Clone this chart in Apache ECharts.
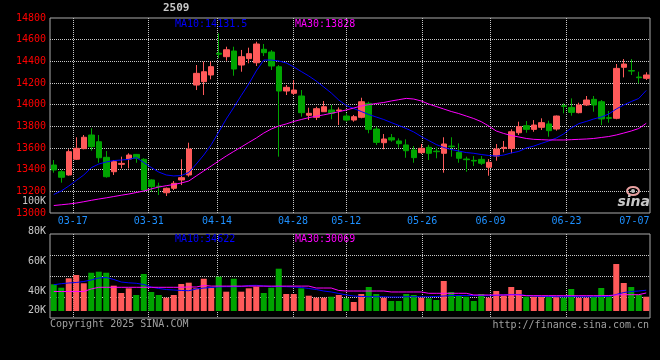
<!DOCTYPE html>
<html><head><meta charset="utf-8">
<script src="https://cdn.jsdelivr.net/npm/echarts@6/dist/echarts.min.js"></script>
<style>html,body{margin:0;padding:0;background:#000}#c{width:660px;height:360px}</style>
</head><body><div id="c"></div><script>
const contract = '2509';
const dates = ['2025-03-12','2025-03-13','2025-03-14','2025-03-17','2025-03-18','2025-03-19','2025-03-20','2025-03-21','2025-03-24','2025-03-25','2025-03-26','2025-03-27','2025-03-28','2025-03-31',
'2025-04-01','2025-04-02','2025-04-03','2025-04-07','2025-04-08','2025-04-09','2025-04-10','2025-04-11','2025-04-14','2025-04-15','2025-04-16','2025-04-17','2025-04-18','2025-04-21','2025-04-22','2025-04-23','2025-04-24','2025-04-25','2025-04-28','2025-04-29','2025-04-30',
'2025-05-06','2025-05-07','2025-05-08','2025-05-09','2025-05-12','2025-05-13','2025-05-14','2025-05-15','2025-05-16','2025-05-19','2025-05-20','2025-05-21','2025-05-22','2025-05-23','2025-05-26','2025-05-27','2025-05-28','2025-05-29','2025-05-30',
'2025-06-03','2025-06-04','2025-06-05','2025-06-06','2025-06-09','2025-06-10','2025-06-11','2025-06-12','2025-06-13','2025-06-16','2025-06-17','2025-06-18','2025-06-19','2025-06-20','2025-06-23','2025-06-24','2025-06-25','2025-06-26','2025-06-27','2025-06-30',
'2025-07-01','2025-07-02','2025-07-03','2025-07-04','2025-07-07','2025-07-08'];
const labelDates = ['03-17','03-31','04-14','04-28','05-12','05-26','06-09','06-23','07-07'];
const gridDates = ['03-17','03-31','04-14','04-28','05-12','05-26','06-09','06-23'];

const open = [13443,13381,13351,13496,13594,13720,13658,13514,13381,13449,
13498,13541,13496,13305,13248,13187,13228,13305,13351,14181,
14212,14274,14475,14443,14495,14366,14425,14387,14511,14486,
14350,14126,14105,14080,13902,13883,13935,13951,13945,13895,
13858,13883,14012,13775,13649,13695,13665,13628,13582,13557,
13606,13571,13551,13618,13560,13498,13486,13495,13422,13526,
13597,13597,13741,13806,13772,13791,13822,13775,13990,13975,
13926,13997,14049,14027,13880,13874,14345,14315,14255,14243];
const close = [13397,13330,13566,13597,13699,13612,13510,13335,13474,13458,
13535,13505,13212,13243,13243,13228,13274,13326,13591,14289,
14304,14351,14466,14507,14329,14443,14471,14560,14480,14357,
14126,14160,14135,13926,13920,13963,13981,13920,13951,13858,
13889,14027,13772,13652,13683,13674,13640,13575,13511,13597,
13551,13566,13637,13612,13505,13492,13480,13459,13468,13591,
13606,13750,13797,13772,13812,13834,13760,13895,13985,13929,
13997,14043,13997,13868,13874,14335,14375,14310,14249,14274];
const low = [13372,13280,13345,13489,13588,13575,13464,13326,13351,13412,
13412,13464,13197,13197,13166,13157,13212,13258,13335,14135,
14089,14234,14428,14406,14267,14304,14382,14357,14449,14320,
13520,14089,14089,13889,13858,13858,13935,13865,13812,13843,
13843,13874,13736,13628,13588,13658,13603,13510,13464,13545,
13489,13505,13372,13520,13464,13381,13434,13443,13344,13483,
13560,13551,13720,13741,13750,13766,13704,13760,13920,13898,
13920,13988,13935,13812,13834,13865,14252,14274,14197,14228];
const high = [13489,13397,13588,13699,13720,13782,13720,13572,13489,13520,
13551,13545,13505,13311,13280,13235,13295,13496,13649,14366,
14397,14397,14659,14535,14535,14505,14526,14581,14560,14504,
14366,14181,14227,14135,13972,13981,14034,13997,13975,13920,
13905,14064,14027,13797,13729,13729,13689,13680,13618,13637,
13628,13606,13699,13699,13643,13520,13526,13526,13498,13637,
13665,13772,13843,13849,13858,13874,13852,13900,14012,14058,
14018,14080,14080,14043,13942,14375,14421,14421,14304,14299];
const ma10 = [13171,13203,13249,13300,13351,13418,13452,13471,13484,13489,
13495,13512,13466,13420,13378,13351,13342,13346,13374,13452,
13535,13631,13748,13868,13974,14085,14191,14311,14412,14412,
14403,14385,14348,14306,14265,14218,14163,14108,14043,13992,
13965,13937,13909,13886,13863,13835,13808,13780,13748,13706,
13669,13632,13605,13586,13572,13558,13551,13540,13531,13526,
13535,13554,13568,13600,13618,13642,13665,13692,13730,13785,
13825,13845,13868,13886,13914,13960,13997,14029,14057,14131.5];
const ma30 = [13069,13076,13083,13092,13104,13117,13129,13140,13152,13164,
13175,13189,13203,13222,13240,13252,13263,13277,13295,13342,
13388,13434,13480,13526,13568,13609,13651,13692,13738,13775,
13803,13822,13845,13863,13880,13893,13906,13920,13935,13951,
13969,13988,14000,14011,14020,14034,14046,14058,14052,14034,
14006,13983,13960,13937,13918,13895,13872,13843,13803,13757,
13734,13715,13702,13688,13680,13677,13674,13674,13674,13677,
13680,13683,13688,13697,13706,13720,13738,13757,13780,13828];
const volume = [44500,38800,54500,60000,46200,63800,65500,63800,42200,30000,
37800,26700,61700,31700,26700,22200,26700,45000,47200,37800,
53800,38800,57200,32200,53800,32200,37800,40500,30000,38800,
70500,28300,28300,37800,25500,22200,22200,23800,26700,21200,
15000,28300,40000,28300,22200,16700,16700,28300,26700,22200,
21200,18300,50000,31700,26700,23800,16700,28300,22200,33300,
25500,40000,35000,23800,23800,23800,23800,23800,22200,36700,
22200,22200,23800,38300,25500,78300,46700,40000,26700,23800];
const volMa10 = [43800,45500,46700,47500,49200,51700,55000,55800,52500,48300,
47000,46200,44200,40000,37500,35800,35000,34200,33800,36700,
38300,39200,40300,40500,40500,40800,42500,42800,41700,40500,
40800,40500,40000,39200,37500,35800,33300,31700,29200,26700,
25000,24200,23800,23800,23800,23300,23300,23800,23800,23800,
23800,24200,25000,25800,25800,25800,25800,25800,25500,26200,
26700,27500,27500,25800,25000,24500,24200,23800,23800,24200,
23800,23800,23800,24200,24200,27500,30800,32500,33300,34622];
const volMa30 = [32500,32500,32500,32500,32500,36700,39500,39500,39500,39500,
39500,39500,39500,39500,39500,39500,39500,39500,40000,40000,
42500,41500,41500,41500,41500,41500,41500,41500,41500,41500,
41500,41500,41500,41500,41500,38300,38300,38300,34200,33300,
33300,33300,33300,33300,33300,31700,31700,31700,31700,31700,
29500,29500,29500,29500,29500,29500,26700,26700,26700,26700,
26700,26700,26700,25500,25500,25500,25500,25500,25500,25500,
25500,25500,25500,25500,25800,26700,27200,27200,27200,30069];

const RED = '#ff5a5a', GREEN = '#00a400', FONT = 'DejaVu Sans Mono';
const GRIDC = '#c8c8c8', FRAME = '#aaaaaa';
const candleData = dates.map((d, i) => [open[i], close[i], low[i], high[i]]);
const volData = volume.map((v, i) => ({ value: v, itemStyle: { color: close[i] > open[i] ? RED : GREEN } }));
const last = a => a[a.length - 1];
const dotted = { type: 'dotted', color: GRIDC, width: 1 };
const lastLabel = labelDates[labelDates.length - 1];

const chart = echarts.init(document.getElementById('c'));
chart.setOption({
  animation: false,
  backgroundColor: '#000',
  grid: [
    { left: 50, top: 18, width: 600, height: 195, show: true, borderColor: FRAME, borderWidth: 1 },
    { left: 50, top: 234, width: 600, height: 84, show: true, borderColor: FRAME, borderWidth: 1 },
    { left: 50, top: 234, width: 600, height: 77 },
    { left: 50, top: 201, width: 600, height: 120 }
  ],
  xAxis: [
    { gridIndex: 0, type: 'category', data: dates, boundaryGap: true, show: false, position: 'bottom' },
    { gridIndex: 0, type: 'category', data: dates, boundaryGap: false, position: 'bottom',
      axisLine: { show: false }, axisTick: { show: false },
      axisLabel: {
        interval: (i, v) => labelDates.includes(v.slice(5)),
        formatter: v => { const s = v.slice(5); return s === lastLabel ? '{e|' + s + '}' : s; },
        color: '#1e90ff', fontFamily: FONT, fontSize: 10, margin: 3,
        rich: { e: { padding: [0, 16, 0, 0], color: '#1e90ff', fontFamily: FONT, fontSize: 10 } }
      },
      splitLine: { show: true, interval: (i, v) => gridDates.includes(v.slice(5)), lineStyle: dotted } },
    { gridIndex: 1, type: 'category', data: dates, boundaryGap: false, position: 'bottom',
      axisLine: { show: false }, axisTick: { show: false }, axisLabel: { show: false },
      splitLine: { show: true, interval: (i, v) => gridDates.includes(v.slice(5)), lineStyle: dotted } },
    { gridIndex: 2, type: 'category', data: dates, boundaryGap: true, show: false, position: 'bottom' },
    { gridIndex: 3, type: 'category', data: dates, show: false, position: 'bottom' }
  ],
  yAxis: [
    { gridIndex: 0, type: 'value', min: 13000, max: 14800, interval: 200,
      axisLine: { show: false }, axisTick: { show: false },
      axisLabel: { color: '#ff0000', fontFamily: FONT, fontSize: 10, margin: 4, padding: [0, 0, 4, 0], formatter: v => String(v) },
      splitLine: { show: true, showMinLine: false, showMaxLine: false, lineStyle: dotted } },
    { gridIndex: 1, type: 'value', min: 0, max: 4, interval: 1,
      axisLine: { show: false }, axisTick: { show: false }, axisLabel: { show: false },
      splitLine: { show: true, showMinLine: false, showMaxLine: false, lineStyle: dotted } },
    { gridIndex: 2, type: 'value', min: 0, max: 128333, show: false },
    { gridIndex: 3, type: 'value', min: 20000, max: 100000, interval: 20000,
      axisLine: { show: false }, axisTick: { show: false }, splitLine: { show: false },
      axisLabel: {
        color: '#c8c8c8', fontFamily: FONT, fontSize: 10, margin: 4,
        formatter: v => v === 20000 ? '{b|' + (v / 1000) + 'K}' : (v / 1000) + 'K',
        rich: { b: { padding: [0, 0, 21, 0], color: '#c8c8c8', fontFamily: FONT, fontSize: 10 } }
      } }
  ],
  series: [
    { type: 'candlestick', xAxisIndex: 0, yAxisIndex: 0, data: candleData, barWidth: 6, silent: true,
      itemStyle: { color: RED, color0: GREEN, borderColor: RED, borderColor0: GREEN, borderWidth: 1 } },
    { type: 'line', xAxisIndex: 0, yAxisIndex: 0, data: ma10, symbol: 'none', silent: true,
      lineStyle: { color: '#0000ff', width: 1 } },
    { type: 'line', xAxisIndex: 0, yAxisIndex: 0, data: ma30, symbol: 'none', silent: true,
      lineStyle: { color: '#ff00ff', width: 1 } },
    { type: 'bar', xAxisIndex: 3, yAxisIndex: 2, data: volData, barWidth: 6, silent: true },
    { type: 'line', xAxisIndex: 3, yAxisIndex: 2, data: volMa10, symbol: 'none', silent: true,
      lineStyle: { color: '#0000ff', width: 1 } },
    { type: 'line', xAxisIndex: 3, yAxisIndex: 2, data: volMa30, symbol: 'none', silent: true,
      lineStyle: { color: '#ff00ff', width: 1 } }
  ],
  graphic: [
    { type: 'text', x: 163, y: 8, style: { text: contract, fill: '#c8c8c8', font: 'bold 11px "DejaVu Sans Mono"', verticalAlign: 'middle' } },
    { type: 'text', x: 175, y: 24, style: { text: 'MA10:' + last(ma10), fill: '#0000ff', font: '10px "DejaVu Sans Mono"', verticalAlign: 'middle' } },
    { type: 'text', x: 295, y: 24, style: { text: 'MA30:' + last(ma30), fill: '#ff00ff', font: '10px "DejaVu Sans Mono"', verticalAlign: 'middle' } },
    { type: 'text', x: 175, y: 239, style: { text: 'MA10:' + last(volMa10), fill: '#0000ff', font: '10px "DejaVu Sans Mono"', verticalAlign: 'middle' } },
    { type: 'text', x: 295, y: 239, style: { text: 'MA30:' + last(volMa30), fill: '#ff00ff', font: '10px "DejaVu Sans Mono"', verticalAlign: 'middle' } },
    { type: 'text', x: 50, y: 324, style: { text: 'Copyright 2025 SINA.COM', fill: '#a0a0a0', font: '10px "DejaVu Sans Mono"', verticalAlign: 'middle' } },
    { type: 'text', x: 649, y: 325, style: { text: 'http://finance.sina.com.cn', fill: '#a0a0a0', font: '10px "DejaVu Sans Mono"', align: 'right', verticalAlign: 'middle' } },
    { type: 'ellipse', shape: { cx: 633, cy: 191, rx: 6, ry: 4 }, style: { fill: 'none', stroke: '#e8a0a0', lineWidth: 2 } },
    { type: 'circle', shape: { cx: 633, cy: 191, r: 2 }, style: { fill: '#bbbbbb' } },
    { type: 'text', x: 650, y: 202, style: { text: 'sina', fill: '#c8c8c8', font: 'italic bold 14px "DejaVu Sans"', align: 'right', verticalAlign: 'middle' } }
  ]
});
</script></body></html>
